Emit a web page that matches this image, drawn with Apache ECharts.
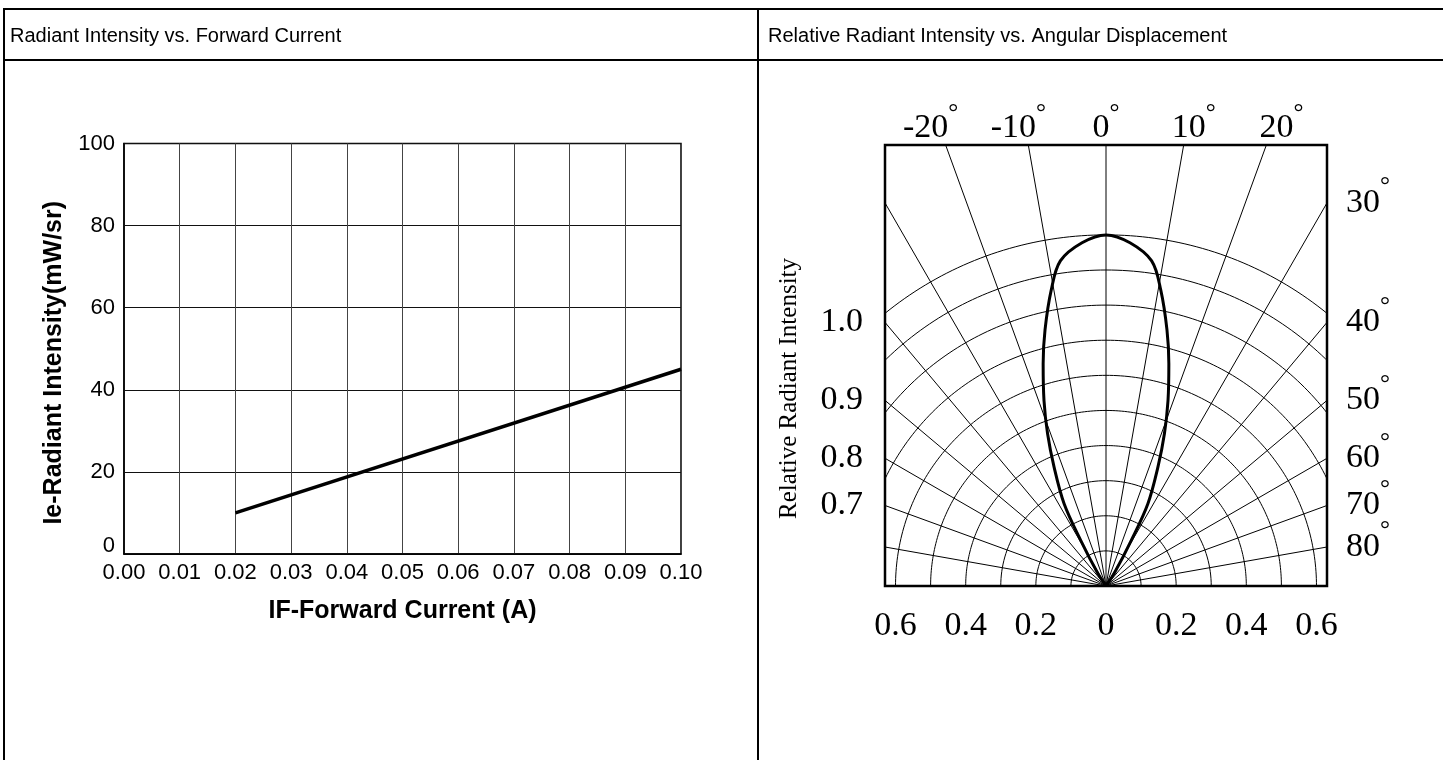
<!DOCTYPE html>
<html><head><meta charset="utf-8">
<script src="https://cdn.jsdelivr.net/npm/echarts@6/dist/echarts.min.js"></script>
<style>html,body{margin:0;padding:0;background:#fff}#c{width:1443px;height:760px}</style>
</head><body><div id="c"></div>
<script>
// ---------- Left chart data ----------
const forwardCurrent = [0.02, 0.10];          // A
const radiantIntensity = [10, 45];            // mW/sr
const leftTitle = 'Radiant Intensity vs. Forward Current';
const leftXName = 'IF-Forward Current (A)';
const leftYName = 'Ie-Radiant Intensity(mW/sr)';

// ---------- Right chart data ----------
const rightTitle = 'Relative Radiant Intensity vs. Angular Displacement';
const patternAngles = [0, 4, 8, 10.5, 13.4, 15.8, 18.5, 21, 23.6, 27, 29, 33];       // degrees off axis
const patternValues = [1.0, 0.98, 0.935, 0.857, 0.75, 0.658, 0.557, 0.465, 0.37, 0.263, 0.148, 0.043];
const gridAngles = [-80, -70, -60, -50, -40, -30, -20, -10, 0, 10, 20, 30, 40, 50, 60, 70, 80];
const gridRadii = [0.1, 0.2, 0.3, 0.4, 0.5, 0.6, 0.7, 0.8, 0.9, 1.0];
const topAngleLabels = [-20, -10, 0, 10, 20];
const sideAngleLabels = [30, 40, 50, 60, 70, 80];
const leftScaleLabels = ['1.0', '0.9', '0.8', '0.7'];
const bottomScaleValues = [-0.6, -0.4, -0.2, 0, 0.2, 0.4, 0.6];
const rightYName = 'Relative Radiant Intensity';

// ---------- layout constants ----------
const X_HALF = 0.63, Y_TOP = 1.256;
const DEG = Math.PI / 180;
const leftScaleAngles = [40, 50, 60, 70];
const SUP_RAISE = 0.046;          // superscript degree raise (data units of the polar box)
const SERIF = 'Liberation Serif';
const SANS = 'Liberation Sans';

const chart = echarts.init(document.getElementById('c'), null, {renderer: 'canvas'});

const series = [];
series.push({
  type: 'line', xAxisIndex: 0, yAxisIndex: 0, symbol: 'none',
  data: forwardCurrent.map((x, i) => [x, radiantIntensity[i]]),
  lineStyle: {color: '#000', width: 3.5}, z: 5, silent: true
});
gridAngles.forEach(a => {
  series.push({
    type: 'line', xAxisIndex: 1, yAxisIndex: 1, symbol: 'none', clip: true, silent: true,
    data: [[0, 0], [3 * Math.sin(a * DEG), 3 * Math.cos(a * DEG)]],
    lineStyle: {color: '#000', width: 1}, z: 2
  });
});
gridRadii.forEach(r => {
  const pts = [];
  for (let a = -90; a <= 90; a += 1) pts.push([r * Math.sin(a * DEG), r * Math.cos(a * DEG)]);
  series.push({
    type: 'line', xAxisIndex: 1, yAxisIndex: 1, symbol: 'none', clip: true, silent: true,
    data: pts, lineStyle: {color: '#000', width: 1}, z: 2
  });
});
const patPts = [[0, 0]];
for (let i = patternAngles.length - 1; i >= 0; i--) {
  const t = -patternAngles[i] * DEG, r = patternValues[i];
  patPts.push([r * Math.sin(t), r * Math.cos(t)]);
}
for (let i = 1; i < patternAngles.length; i++) {
  const t = patternAngles[i] * DEG, r = patternValues[i];
  patPts.push([r * Math.sin(t), r * Math.cos(t)]);
}
patPts.push([0, 0]);
series.push({
  type: 'line', xAxisIndex: 1, yAxisIndex: 1, symbol: 'none', clip: true, silent: true,
  smooth: 0.35, data: patPts, lineStyle: {color: '#000', width: 3}, z: 6
});

// number + degree, drawn twice: once with the number visible, once with the (raised) degree visible
const richNum = {
  n: {fontFamily: SERIF, fontSize: 34, lineHeight: 34, color: '#000'},
  g: {fontFamily: SERIF, fontSize: 25, lineHeight: 34, color: 'rgba(0,0,0,0)'}
};
const richDeg = {
  n: {fontFamily: SERIF, fontSize: 34, lineHeight: 34, color: 'rgba(0,0,0,0)'},
  g: {fontFamily: SERIF, fontSize: 25, lineHeight: 34, color: '#000'}
};
const degText = a => '{n|' + a + '}{g|°}';
const sideValue = a => X_HALF / Math.tan(a * DEG);
const findSide = (v, shift) => sideAngleLabels.findIndex(a => Math.abs(sideValue(a) + shift - v) < 1e-6);

const hidden = {axisLine: {show: false, onZero: false}, axisTick: {show: false}, splitLine: {show: false}};

const option = {
  backgroundColor: '#fff',
  animation: false,
  title: [
    {text: leftTitle, left: 10, top: 26, padding: 0, textStyle: {fontFamily: SANS, fontSize: 20, fontWeight: 'normal', color: '#000'}},
    {text: rightTitle, left: 768, top: 26, padding: 0, textStyle: {fontFamily: SANS, fontSize: 20, fontWeight: 'normal', color: '#000'}}
  ],
  graphic: [
    {type: 'line', shape: {x1: 3, y1: 9, x2: 1443, y2: 9}, style: {stroke: '#000', lineWidth: 2}},
    {type: 'line', shape: {x1: 3, y1: 60, x2: 1443, y2: 60}, style: {stroke: '#000', lineWidth: 2}},
    {type: 'line', shape: {x1: 4, y1: 8, x2: 4, y2: 760}, style: {stroke: '#000', lineWidth: 2}},
    {type: 'line', shape: {x1: 758, y1: 8, x2: 758, y2: 760}, style: {stroke: '#000', lineWidth: 2}}
  ],
  grid: [
    {left: 124, top: 143.5, width: 557, height: 410.5, show: true, borderColor: '#000', borderWidth: 1.5, backgroundColor: 'transparent'},
    {left: 885, top: 145, width: 442, height: 441, show: true, borderColor: '#000', borderWidth: 2.5, backgroundColor: 'transparent'}
  ],
  xAxis: [
    {gridIndex: 0, type: 'value', min: 0, max: 0.1, interval: 0.01,
      axisLine: {show: true, lineStyle: {color: '#000', width: 1.5}}, axisTick: {show: false},
      splitLine: {show: true, lineStyle: {color: '#444', width: 1}},
      axisLabel: {color: '#000', fontFamily: SANS, fontSize: 22, margin: 8, formatter: v => v.toFixed(2)},
      name: leftXName, nameLocation: 'middle', nameGap: 45,
      nameTextStyle: {fontFamily: SANS, fontSize: 25, fontWeight: 'bold', color: '#000'}},
    Object.assign({gridIndex: 1, type: 'value', min: -X_HALF, max: X_HALF, position: 'bottom',
      axisLabel: {customValues: bottomScaleValues, hideOverlap: false, color: '#000', fontFamily: SERIF, fontSize: 34, margin: 23,
        formatter: v => String(Math.abs(Math.round(v * 10) / 10))}}, hidden),
    Object.assign({gridIndex: 1, type: 'value', min: -25.2, max: 25.2, position: 'top',
      axisLabel: {customValues: topAngleLabels, hideOverlap: false, margin: 0, formatter: v => degText(v), rich: richNum}}, hidden),
    Object.assign({gridIndex: 1, type: 'value', min: -25.2, max: 25.2, position: 'top',
      axisLabel: {customValues: topAngleLabels, hideOverlap: false, margin: 15, formatter: v => degText(v), rich: richDeg}}, hidden)
  ],
  yAxis: [
    {gridIndex: 0, type: 'value', min: 0, max: 100, interval: 20,
      axisLine: {show: true, lineStyle: {color: '#000', width: 1.5}}, axisTick: {show: false},
      splitLine: {show: true, lineStyle: {color: '#111', width: 1}},
      axisLabel: {color: '#000', fontFamily: SANS, fontSize: 22, margin: 9,
        formatter: v => v === 0 ? '{z|0}' : String(v),
        rich: {z: {fontFamily: SANS, fontSize: 22, color: '#000', padding: [0, 0, 16, 0]}}},
      name: leftYName, nameLocation: 'middle', nameGap: 57, nameRotate: 90,
      nameTextStyle: {fontFamily: SANS, fontSize: 25, fontWeight: 'bold', color: '#000', padding: [0, 28, 0, 0]}},
    Object.assign({gridIndex: 1, type: 'value', min: 0, max: Y_TOP, position: 'left',
      axisLabel: {customValues: leftScaleAngles.map(sideValue), hideOverlap: false, color: '#000',
        fontFamily: SERIF, fontSize: 34, lineHeight: 34, margin: 22,
        formatter: v => {
          const i = leftScaleAngles.findIndex(a => Math.abs(sideValue(a) - v) < 1e-6);
          return i >= 0 ? leftScaleLabels[i] : '';
        }},
      name: rightYName, nameLocation: 'middle', nameGap: 83, nameRotate: 90,
      nameTextStyle: {fontFamily: SERIF, fontSize: 25, color: '#000', padding: [0, 46, 0, 0]}}, hidden),
    Object.assign({gridIndex: 1, type: 'value', min: 0, max: Y_TOP, position: 'right',
      axisLabel: {customValues: [0].concat(sideAngleLabels.map(sideValue), [Y_TOP]), hideOverlap: false, margin: 19,
        formatter: v => { const i = findSide(v, 0); return i >= 0 ? degText(sideAngleLabels[i]) : ''; },
        rich: richNum}}, hidden),
    Object.assign({gridIndex: 1, type: 'value', min: 0, max: Y_TOP, position: 'right',
      axisLabel: {customValues: [0].concat(sideAngleLabels.map(a => sideValue(a) + SUP_RAISE), [Y_TOP]), hideOverlap: false, margin: 19,
        formatter: v => { const i = findSide(v, SUP_RAISE); return i >= 0 ? degText(sideAngleLabels[i]) : ''; },
        rich: richDeg}}, hidden)
  ],
  series
};
chart.setOption(option);
</script></body></html>
